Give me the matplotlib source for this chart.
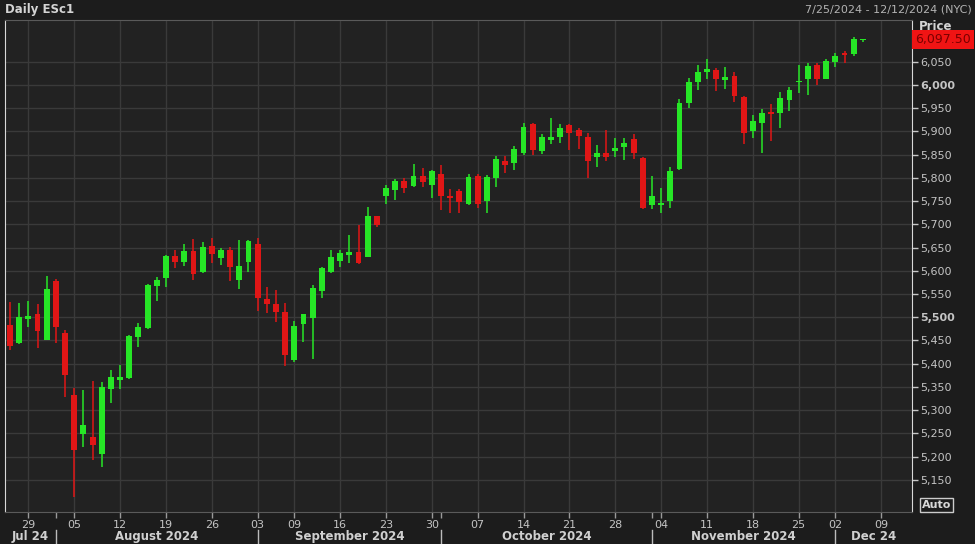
# Daily ESc1 candlestick chart, dark terminal style
import numpy as np
import pandas as pd
import matplotlib
matplotlib.use('Agg')
import matplotlib.pyplot as plt
import matplotlib.transforms as mtransforms

#%% data - trading days 7/25/2024 to 12/5/2024 (Labor day and Thanksgiving closed)
days = pd.bdate_range('2024-07-25', '2024-12-13', freq='C', holidays=['2024-09-02', '2024-11-28'])

opens = [5483, 5444, 5496, 5506, 5451, 5577, 5467, 5333, 5248, 5243,
         5206, 5346, 5364, 5369, 5458, 5476, 5567, 5584, 5631, 5620,
         5643, 5597, 5653, 5628, 5645, 5580, 5620, 5658, 5539, 5528,
         5512, 5407, 5485, 5498, 5557, 5597, 5621, 5633, 5640, 5630,
         5717, 5761, 5774, 5793, 5783, 5804, 5785, 5808, 5760, 5772,
         5744, 5804, 5751, 5799, 5837, 5832, 5854, 5916, 5859, 5882,
         5889, 5914, 5903, 5889, 5844, 5854, 5857, 5867, 5883, 5842,
         5742, 5742, 5751, 5819, 5962, 6006, 6029, 6032, 6011, 6020,
         5975, 5900, 5919, 5941, 5939, 5968, 6006, 6014, 6043, 6014,
         6050, 6068, 6067, 6097.5]
highs = [5533, 5530, 5535, 5528, 5589, 5582, 5473, 5347, 5343, 5362,
         5360, 5386, 5397, 5461, 5488, 5571, 5587, 5634, 5645, 5658,
         5668, 5663, 5670, 5650, 5652, 5666, 5666, 5671, 5566, 5559,
         5530, 5493, 5508, 5569, 5609, 5645, 5645, 5677, 5699, 5738,
         5718, 5785, 5797, 5799, 5831, 5821, 5818, 5828, 5776, 5776,
         5808, 5808, 5806, 5847, 5847, 5869, 5919, 5918, 5894, 5930,
         5917, 5917, 5907, 5896, 5871, 5903, 5885, 5885, 5894, 5846,
         5804, 5778, 5824, 5969, 6016, 6043, 6055, 6037, 6038, 6029,
         5977, 5935, 5948, 5959, 5986, 5996, 6043, 6047, 6048, 6057,
         6070, 6074, 6104, 6097.5]
lows = [5429, 5442, 5480, 5433, 5450, 5445, 5329, 5114, 5221, 5193,
        5178, 5316, 5346, 5367, 5437, 5474, 5535, 5566, 5605, 5611,
        5580, 5595, 5616, 5612, 5577, 5561, 5598, 5513, 5509, 5490,
        5394, 5404, 5447, 5410, 5541, 5596, 5609, 5616, 5615, 5629,
        5695, 5744, 5752, 5768, 5780, 5781, 5756, 5731, 5724, 5725,
        5742, 5735, 5725, 5781, 5811, 5816, 5849, 5849, 5851, 5873,
        5876, 5860, 5862, 5800, 5824, 5837, 5846, 5839, 5840, 5732,
        5732, 5725, 5735, 5816, 5951, 5989, 6014, 5988, 5991, 5964,
        5874, 5887, 5854, 5880, 5907, 5943, 5982, 5978, 6000, 6012,
        6038, 6048, 6062, 6093]
closes = [5438, 5500, 5503, 5470, 5560, 5480, 5376, 5214, 5268, 5225,
          5349, 5371, 5371, 5460, 5478, 5569, 5580, 5632, 5620, 5643,
          5593, 5652, 5636, 5645, 5609, 5611, 5664, 5542, 5528, 5511,
          5419, 5481, 5507, 5562, 5605, 5630, 5638, 5640, 5616, 5719,
          5699, 5778, 5793, 5779, 5804, 5792, 5815, 5760, 5756, 5749,
          5803, 5744, 5803, 5840, 5828, 5862, 5910, 5860, 5889, 5889,
          5908, 5897, 5890, 5836, 5853, 5844, 5864, 5875, 5853, 5735,
          5760, 5745, 5815, 5961, 6007, 6029, 6034, 6014, 6018, 5976,
          5896, 5923, 5939, 5938, 5971, 5989, 6009, 6041, 6014, 6052,
          6062, 6065, 6100, 6097.5]

last_price = 6097.50
price_ticks = list(range(5150, 6051, 50))
month_names = ['Jul 24', 'August 2024', 'September 2024', 'October 2024', 'November 2024', 'Dec 24']

#%% colours
bg_fig = '#1c1c1c'
bg_ax = '#222222'
grid_c = '#3a3a3a'
txt_c = '#c4c4c4'
up_c = '#26e626'
dn_c = '#e01616'

fig = plt.figure(figsize=(9.75, 5.44), dpi=100, facecolor=bg_fig)
ax = fig.add_axes([5/975, 1-512/544, 907/975, 492/544], facecolor=bg_ax)

n = len(opens)
x = np.arange(n)
o = np.array(opens, dtype=float)
h = np.array(highs, dtype=float)
l = np.array(lows, dtype=float)
c = np.array(closes, dtype=float)
cols = np.where(c >= o, up_c, dn_c)

# wicks then bodies
ax.vlines(x, l, h, colors=cols, linewidth=1.1, zorder=3)
body = np.maximum(np.abs(c - o), 1.8)
ax.bar(x, body, bottom=np.minimum(o, c), width=0.64, color=cols, edgecolor=cols, linewidth=0, zorder=4)

ax.set_xlim(-0.55, 98.36)
ax.set_ylim(5080.7, 6140)

# weekly ticks (first trading day of each week)
wk = pd.Series(days.isocalendar().week.values)
first_of_week = [i for i in range(1, len(days)) if wk[i] != wk[i-1]]
ax.set_xticks(first_of_week)
ax.set_xticklabels([days[i].strftime('%d') for i in first_of_week])

# month starts
month_start = [i for i in range(1, len(days)) if days[i].month != days[i-1].month]
month_start = [i for i in month_start if i < 95]
ax.set_xticks(month_start, minor=True)

ax.set_yticks(price_ticks)
ax.set_yticklabels(['{:,}'.format(p) for p in price_ticks])
ax.yaxis.tick_right()
for lab, p in zip(ax.get_yticklabels(), price_ticks):
    if p in (5500, 6000):
        lab.set_fontweight('bold')
        lab.set_color('#e8e8e8')

ax.tick_params(axis='y', which='major', direction='out', length=4, width=1, colors='#c8c8c8',
               labelcolor=txt_c, labelsize=8, pad=2)
ax.tick_params(axis='x', which='both', direction='out', length=4, width=1, colors='#9a9a9a',
               labelcolor=txt_c, labelsize=8, pad=2)

ax.grid(True, which='major', color=grid_c, linewidth=1)
ax.set_axisbelow(True)

for side in ['left', 'right']:
    ax.spines[side].set_color('#d8d8d8')
for side in ['top', 'bottom']:
    ax.spines[side].set_color('#5a5a5a')

# month labels and separators under the axis
trans = mtransforms.blended_transform_factory(ax.transData, ax.transAxes)
edges = [-0.55] + month_start + [98.36]
for k, name in enumerate(month_names):
    mid = (edges[k] + edges[k+1]) / 2.0
    ax.text(mid, -0.0495, name, transform=trans, ha='center', va='center', fontsize=8.5,
            fontweight='bold', color='#d0d0d0', clip_on=False)
for m in month_start:
    ax.plot([m, m], [-0.036, -0.08], transform=trans, color='#bbbbbb', linewidth=1, clip_on=False)

# header texts
fig.text(5/975, 1-9/544, 'Daily ESc1', fontsize=8.5, fontweight='bold', color='#d4d4d4', ha='left', va='center')
fig.text(972/975, 1-9/544, '7/25/2024 - 12/12/2024 (NYC)', fontsize=8, color='#b4b4b4', ha='right', va='center')
fig.text(919/975, 1-27/544, 'Price', fontsize=8.5, fontweight='bold', color='#d4d4d4', ha='left', va='center')

# last price box
ytrans = mtransforms.blended_transform_factory(ax.transAxes, ax.transData)
ax.text(1.003, last_price, '{:,.2f}'.format(last_price), transform=ytrans, ha='left', va='center',
        fontsize=9, color='#7a0000', clip_on=False, zorder=10,
        bbox=dict(boxstyle='square,pad=0.25', facecolor='#f01414', edgecolor='none'))

fig.text(922/975, 1-505/544, 'Auto', fontsize=8, fontweight='bold', color='#d8d8d8', ha='left', va='center',
         bbox=dict(boxstyle='square,pad=0.15', facecolor='none', edgecolor='#cccccc', linewidth=1))

fig.savefig('out.png', dpi=100, facecolor=bg_fig)
